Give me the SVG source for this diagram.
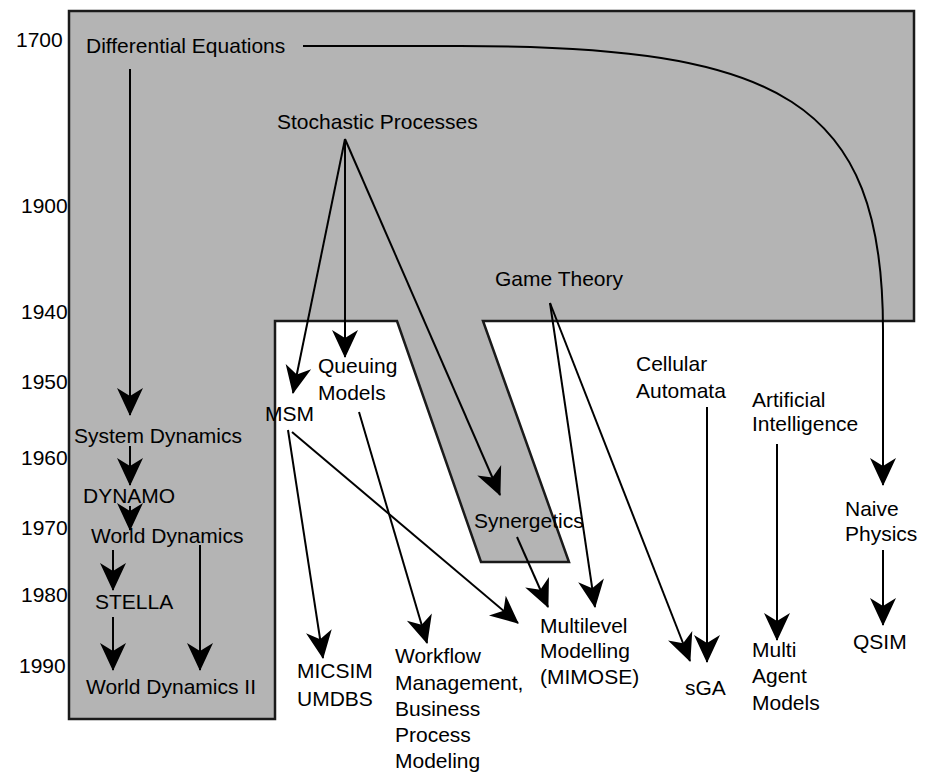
<svg xmlns="http://www.w3.org/2000/svg" width="925" height="772" viewBox="0 0 925 772">
  <style>
    .lbl { font-family: "Liberation Sans", Arial, sans-serif; font-size: 21px; fill: #000; }
    .yr { font-family: "Liberation Sans", Arial, sans-serif; font-size: 21px; fill: #000; }
    .region { fill: #b4b4b4; stroke: #1a1a1a; stroke-width: 2.5; stroke-linejoin: miter; }
    .edge { fill: none; stroke: #000; stroke-width: 2; marker-end: url(#head); }
  </style>
  <defs>
    <marker id="head" markerUnits="userSpaceOnUse" markerWidth="32" markerHeight="32" viewBox="-29 -16 32 32" refX="0" refY="0" orient="auto" overflow="visible">
      <path d="M1,0 L-27,-13 L-19,0 L-27,13 Z" fill="#000"/>
    </marker>
  </defs>

  <!-- white page -->
  <rect x="0" y="0" width="925" height="772" fill="#fff"/>

  <!-- shaded era region (continuous methods) -->
  <g id="shaded-region">
    <path class="region" d="M69,11 L914,11 L914,321 L483,321 L569,562 L481,562 L397,321 L275,321 L275,719 L69,719 Z"/>
  </g>

  <!-- time axis -->
  <g id="years">
    <text class="yr" x="16" y="47">1700</text>
    <text class="yr" x="21" y="213">1900</text>
    <text class="yr" x="21" y="319">1940</text>
    <text class="yr" x="21" y="389">1950</text>
    <text class="yr" x="21" y="465">1960</text>
    <text class="yr" x="21" y="535">1970</text>
    <text class="yr" x="21" y="602">1980</text>
    <text class="yr" x="19" y="673">1990</text>
  </g>

  <!-- connectors -->
  <g id="connectors">
    <path class="edge" d="M130,69 L130,415"/>
    <path class="edge" d="M130,446 L130,485"/>
    <path class="edge" d="M130,506 L130,530"/>
    <path class="edge" d="M113,550 L113,590"/>
    <path class="edge" d="M113,617 L113,670"/>
    <path class="edge" d="M200,545 L200,670"/>
    <path class="edge" d="M345,139 L293,393"/>
    <path class="edge" d="M345,139 L345,357"/>
    <path class="edge" d="M345,139 L500,495"/>
    <path class="edge" d="M288,430 L323,658"/>
    <path class="edge" d="M292,432 L518,623"/>
    <path class="edge" d="M359,412 L427,643"/>
    <path class="edge" d="M517,537 L548,607"/>
    <path class="edge" d="M550,303 L595,607"/>
    <path class="edge" d="M550,303 L690,661"/>
    <path class="edge" d="M707,407 L707,662"/>
    <path class="edge" d="M777,444 L777,640"/>
    <path class="edge" d="M883,550 L883,625"/>
    <path class="edge" d="M303,46 L460,46 C780,46 883,100 883,330 L883,485"/>
  </g>

  <!-- nodes -->
  <g id="differential-equations"><text class="lbl" x="86" y="53">Differential Equations</text></g>
  <g id="stochastic-processes"><text class="lbl" x="277" y="129">Stochastic Processes</text></g>
  <g id="game-theory"><text class="lbl" x="495" y="286">Game Theory</text></g>
  <g id="system-dynamics"><text class="lbl" x="74" y="443">System Dynamics</text></g>
  <g id="dynamo"><text class="lbl" x="83" y="503">DYNAMO</text></g>
  <g id="world-dynamics"><text class="lbl" x="91" y="543">World Dynamics</text></g>
  <g id="stella"><text class="lbl" x="95" y="609">STELLA</text></g>
  <g id="world-dynamics-2"><text class="lbl" x="86" y="694">World Dynamics II</text></g>
  <g id="msm"><text class="lbl" x="265" y="421">MSM</text></g>
  <g id="queuing-models">
    <text class="lbl" x="318" y="373">Queuing</text>
    <text class="lbl" x="318" y="400">Models</text>
  </g>
  <g id="micsim-umdbs">
    <text class="lbl" x="297" y="678">MICSIM</text>
    <text class="lbl" x="297" y="706">UMDBS</text>
  </g>
  <g id="workflow">
    <text class="lbl" x="395" y="663">Workflow</text>
    <text class="lbl" x="395" y="690">Management,</text>
    <text class="lbl" x="395" y="716">Business</text>
    <text class="lbl" x="395" y="742">Process</text>
    <text class="lbl" x="395" y="768">Modeling</text>
  </g>
  <g id="synergetics"><text class="lbl" x="474" y="528">Synergetics</text></g>
  <g id="multilevel">
    <text class="lbl" x="540" y="633">Multilevel</text>
    <text class="lbl" x="540" y="658">Modelling</text>
    <text class="lbl" x="540" y="684">(MIMOSE)</text>
  </g>
  <g id="cellular-automata">
    <text class="lbl" x="636" y="371">Cellular</text>
    <text class="lbl" x="636" y="398">Automata</text>
  </g>
  <g id="artificial-intelligence">
    <text class="lbl" x="752" y="407">Artificial</text>
    <text class="lbl" x="752" y="431">Intelligence</text>
  </g>
  <g id="naive-physics">
    <text class="lbl" x="845" y="516">Naive</text>
    <text class="lbl" x="845" y="541">Physics</text>
  </g>
  <g id="qsim"><text class="lbl" x="853" y="649">QSIM</text></g>
  <g id="sga"><text class="lbl" x="685" y="695">sGA</text></g>
  <g id="multi-agent">
    <text class="lbl" x="752" y="657">Multi</text>
    <text class="lbl" x="752" y="683">Agent</text>
    <text class="lbl" x="752" y="710">Models</text>
  </g>
</svg>
